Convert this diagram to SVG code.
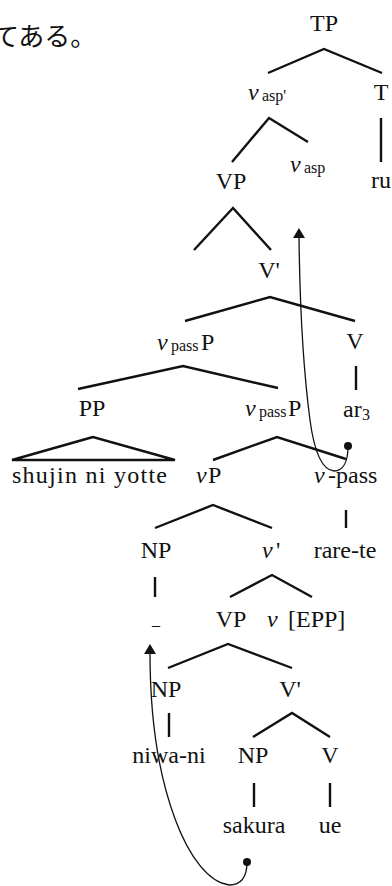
<svg xmlns="http://www.w3.org/2000/svg" width="392" height="886" viewBox="0 0 392 886">
  <style>
    .lbl { font-family: "Liberation Serif", serif; font-size: 24px; fill: #111; }
    .mid { text-anchor: middle; }
    .it { font-style: italic; }
    .sub { font-size: 16px; }
    .jp { font-family: "Liberation Serif", "Noto Sans CJK JP", serif; font-size: 26px; fill: #111; }
    .branch { fill: none; stroke: #111; stroke-width: 2.4; stroke-linecap: butt; stroke-linejoin: miter; }
    .move { fill: none; stroke: #111; stroke-width: 1.3; }
  </style>
  <defs>
    <marker id="head" markerUnits="userSpaceOnUse" markerWidth="10" markerHeight="12" viewBox="0 0 10 12" refX="1" refY="6" orient="auto">
      <path d="M0,0 L10,6 L0,12 z" fill="#111"/>
    </marker>
  </defs>

  <rect width="392" height="886" fill="#fff"/>

  <!-- sentence fragment at top left -->
  <text class="jp" x="-7" y="46">てある。</text>

  <!-- tree branches -->
  <g id="branches">
    <path class="branch" d="M268,73 L324,49 L382,73"/>
    <path class="branch" d="M381,118 V162"/>
    <path class="branch" d="M232,162 L269,118 L308,142"/>
    <path class="branch" d="M194,250 L233,208 L271,250"/>
    <path class="branch" d="M185,321 L270,297 L355,321"/>
    <path class="branch" d="M356,366 V390"/>
    <path class="branch" d="M78,389 L183,366 L278,388"/>
    <path class="branch" d="M93,437 L12,460 L175,460 Z"/>
    <path class="branch" d="M213,460 L277,437 L346,459"/>
    <path class="branch" d="M155,528 L213,505 L272,528"/>
    <path class="branch" d="M346,510 V528"/>
    <path class="branch" d="M155,577 V597"/>
    <path class="branch" d="M230,597 L272,575 L312,597"/>
    <path class="branch" d="M168,668 L228,644 L292,668"/>
    <path class="branch" d="M169,713 V737"/>
    <path class="branch" d="M253,737 L292,713 L330,737"/>
    <path class="branch" d="M254,783 V807"/>
    <path class="branch" d="M330,783 V807"/>
  </g>

  <!-- movement arrows -->
  <g id="movement">
    <circle cx="348" cy="446" r="4" fill="#111"/>
    <path class="move" marker-end="url(#head)" d="M348,446 C348,462 343,471 334,471 C322,470 314,450 310,420 C304,375 300,320 299,237"/>
    <circle cx="247" cy="862" r="4" fill="#111"/>
    <path class="move" marker-end="url(#head)" d="M247,862 C247,877 241,885 229,885 C190,880 150,790 150,653"/>
  </g>

  <!-- nodes -->
  <g id="TP"><text class="lbl mid" x="324" y="31">TP</text></g>
  <g id="vasp-bar"><text class="lbl"><tspan class="it" x="248" y="100">v</tspan><tspan class="sub" x="262" y="101">asp'</tspan></text></g>
  <g id="T"><text class="lbl mid" x="381" y="100">T</text></g>
  <g id="ru"><text class="lbl mid" x="381" y="188">ru</text></g>
  <g id="VP-top"><text class="lbl mid" x="231" y="189">VP</text></g>
  <g id="vasp"><text class="lbl"><tspan class="it" x="290" y="172">v</tspan><tspan class="sub" x="304" y="173">asp</tspan></text></g>
  <g id="V-bar-top"><text class="lbl mid" x="269" y="278">V'</text></g>
  <g id="vpassP-upper"><text class="lbl"><tspan class="it" x="157" y="350">v</tspan><tspan class="sub" x="171" y="351">pass</tspan><tspan x="201" y="350">P</tspan></text></g>
  <g id="V-top"><text class="lbl mid" x="355" y="349">V</text></g>
  <g id="PP"><text class="lbl mid" x="92" y="416">PP</text></g>
  <g id="vpassP-lower"><text class="lbl"><tspan class="it" x="245" y="416">v</tspan><tspan class="sub" x="259" y="417">pass</tspan><tspan x="288" y="416">P</tspan></text></g>
  <g id="ar3"><text class="lbl"><tspan x="343" y="417">ar</tspan><tspan class="sub" x="362" y="420">3</tspan></text></g>
  <g id="shujin"><text class="lbl" x="12" y="483" textLength="155" lengthAdjust="spacing">shujin ni yotte</text></g>
  <g id="vP"><text class="lbl"><tspan class="it" x="196" y="483">v</tspan><tspan x="208" y="483">P</tspan></text></g>
  <g id="v-pass"><text class="lbl"><tspan class="it" x="314" y="483">v</tspan><tspan x="328" y="483">-pass</tspan></text></g>
  <g id="NP-subj"><text class="lbl mid" x="156" y="558">NP</text></g>
  <g id="v-bar"><text class="lbl"><tspan class="it" x="262" y="558">v</tspan><tspan x="276" y="558">'</tspan></text></g>
  <g id="rare-te"><text class="lbl mid" x="345" y="558">rare-te</text></g>
  <g id="trace"><text class="lbl mid" x="156" y="625" style="font-size:16px">_</text></g>
  <g id="VP-lower"><text class="lbl mid" x="231" y="627">VP</text></g>
  <g id="v-EPP"><text class="lbl"><tspan class="it" x="267" y="627">v</tspan><tspan x="288" y="627">[EPP]</tspan></text></g>
  <g id="NP-loc"><text class="lbl mid" x="166" y="697">NP</text></g>
  <g id="V-bar-low"><text class="lbl mid" x="290" y="697">V'</text></g>
  <g id="niwa-ni"><text class="lbl mid" x="169" y="763">niwa-ni</text></g>
  <g id="NP-obj"><text class="lbl mid" x="253" y="763">NP</text></g>
  <g id="V-low"><text class="lbl mid" x="330" y="763">V</text></g>
  <g id="sakura"><text class="lbl mid" x="254" y="833">sakura</text></g>
  <g id="ue"><text class="lbl mid" x="330" y="833">ue</text></g>
</svg>
